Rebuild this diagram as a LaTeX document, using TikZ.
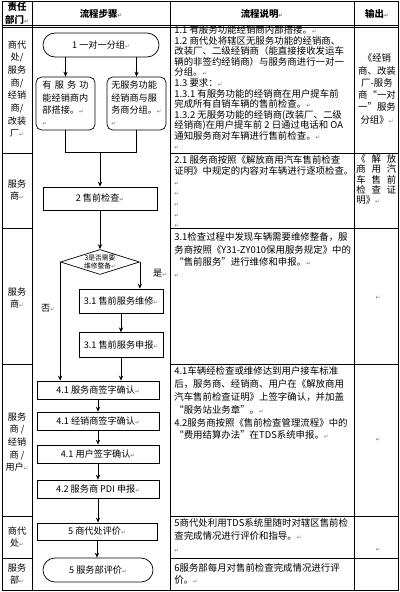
\documentclass[tikz,border=0pt]{standalone}
\usepackage{fontspec}
\setmainfont{Noto Sans CJK SC}
\newfontfamily\markfont{DejaVu Sans}
\usetikzlibrary{arrows.meta,shapes.geometric}
\newcommand{\crmark}{{\markfont\color{black!55}\fontsize{4}{4}\selectfont ↵}}
\newcommand{\spreadline}[2]{\makebox[#1][s]{#2}}

\begin{document}
\begin{tikzpicture}[x=0.025cm,y=-0.025cm,line width=0.5pt,
  arr/.style={-{Stealth[length=3.5pt,width=3pt]}},
  head/.style={align=center,inner sep=0pt,font=\bfseries\fontsize{6.7}{9}\selectfont},
  dept/.style={align=center,inner sep=0pt,font=\fontsize{6.5}{9}\selectfont},
  desc/.style={anchor=north west,inner sep=0pt,align=left,font=\fontsize{6.7}{#1}\selectfont},
  outtext/.style={align=center,inner sep=0pt,font=\fontsize{6.7}{8.7}\selectfont},
  stepbox/.style={draw,rectangle,inner sep=0pt,minimum width=3.05cm,minimum height=0.45cm,font=\fontsize{6.5}{8}\selectfont},
  termbox/.style={draw,rectangle,rounded corners=0.3cm,inner sep=0pt,minimum height=0.6cm,font=\fontsize{6.5}{8}\selectfont},
  smallbox/.style={draw,rectangle,rounded corners=4pt,inner sep=0pt,minimum width=1.475cm,minimum height=1.325cm,align=left,font=\fontsize{6.5}{8.8}\selectfont},
  decide/.style={draw,diamond,aspect=3.2,inner sep=0pt,minimum width=1.975cm,minimum height=0.625cm,align=center,font=\fontsize{4.8}{5.5}\selectfont},
  lab/.style={inner sep=0pt,font=\fontsize{6.5}{8}\selectfont}]
\useasboundingbox (0,0) rectangle (400,592);
% table
\draw[line width=0.6pt] (2,1) rectangle (398,590);
\draw (32,1) -- (32,590) (170,1) -- (170,590) (354,1) -- (354,590);
\draw (2,25) -- (398,25) (2,27) -- (398,27);
\foreach \yy in {153,228,364,516,558}
  \draw (2,\yy) -- (32,\yy) (170,\yy) -- (398,\yy);
% header
\node[head] (hdept) at (17,13.5) {责任\\部门\crmark};
\node[head] (hstep) at (101,14) {流程步骤\crmark};
\node[head] (hdesc) at (262,14) {流程说明\crmark};
\node[head] (hout) at (377,14) {输出\crmark};
% departments
\node[dept] (d1) at (17,89) {商代\\处/\\服务\\商/\\经销\\商/\\改装\\厂\crmark};
\node[dept] (d2) at (17,190) {服务\\商\crmark};
\node[dept] (d3) at (17,298) {服务\\商\crmark};
\node[dept] (d4) at (17,442) {服务\\商\ /\\经销\\商\ /\\用户\crmark};
\node[dept] (d5) at (17,537) {商代\\处\crmark};
\node[dept] (d6) at (17,574) {服务\\部\crmark};
% flow
\node[termbox,minimum width=2.9cm] (s1) at (101,45) {1 一对一分组\crmark};
\node[smallbox] (s1a) at (65.5,103.5) {\spreadline{1.15cm}{有\hfill 服\hfill 务\hfill 功}\\能经销商内\\部搭接。\crmark\\\crmark};
\node[smallbox] (s1b) at (136.5,103.5) {无服务功能\\经销商与服\\务商分组。\crmark\\\crmark};
\coordinate (jl) at (65.5,152);
\coordinate (jr) at (136.5,152);
\coordinate (jm) at (100,152);
\node[stepbox,minimum width=2.85cm,minimum height=0.575cm] (s2) at (100,198.5) {2 售前检查\crmark};
\node[decide] (s3) at (100,262) {3是否需要\\维修整备\crmark};
\node[stepbox,minimum width=2.1cm,minimum height=0.6cm] (s31) at (121,301) {3.1 售前服务维修\crmark};
\node[stepbox,minimum width=2.1cm,minimum height=0.62cm] (s32) at (121,345) {3.1 售前服务申报\crmark};
\node[lab] (yes) at (160,273) {是\crmark};
\node[lab] (no) at (48,308) {否\crmark};
\node[stepbox] (s41) at (98,390) {4.1 服务商签字确认\crmark};
\node[stepbox] (s42) at (98,421) {4.1 经销商签字确认\crmark};
\node[stepbox] (s43) at (98,454) {4.1 用户签字确认\crmark};
\node[stepbox] (s44) at (98,489) {4.2 服务商 PDI 申报\crmark};
\node[stepbox,minimum width=3.0cm,minimum height=0.43cm] (s5) at (97,531.5) {5 商代处评价\crmark};
\node[termbox,minimum width=2.75cm] (s6) at (98,570) {5 服务部评价\crmark};
\draw[arr] (s1a.north |- s1.south) -- (s1a.north);
\draw[arr] (s1b.north |- s1.south) -- (s1b.north);
\draw (s1a.south) -- (jl) -- (jr) -- (s1b.south);
\draw[arr] (jm) -- (s2.north);
\draw[arr] (s2.south) -- (s3.north);
\draw[arr] (s3.east) -- (s3.east |- s31.north);
\draw[arr] (s31) -- (s32);
\draw[arr] (s3.west) -- (s3.west |- s41.north);
\draw[arr] (s32.south) -- (s32.south |- s41.north);
\draw[arr] (s41) -- (s42);
\draw[arr] (s42) -- (s43);
\draw[arr] (s43) -- (s44);
\draw[arr] (s44.south) -- (s44.south |- s5.north);
\draw[arr] (s5.south) -- (s5.south |- s6.north);
% description
\node[desc=7.5pt] (t1) at (174,25.5) {1.1 有服务功能经销商内部搭接。\crmark\\1.2 商代处将辖区无服务功能的经销商、\\改装厂、二级经销商（能直接接收发运车\\辆的非签约经销商）与服务商进行一对一\\分组。\crmark\\1.3 要求：\crmark\\1.3.1 有服务功能的经销商在用户提车前\\完成所有自销车辆的售前检查。\crmark\\1.3.2 无服务功能的经销商(改装厂、二级\\经销商)在用户提车前 2 日通过电话和 OA\\通知服务商对车辆进行售前检查。\crmark\\\crmark};
\node[desc=7.6pt] (t2) at (174,155.5) {2.1 服务商按照《解放商用汽车售前检查\\证明》中规定的内容对车辆进行逐项检查。\crmark\\\crmark\\\crmark\\\crmark\\\crmark\\\crmark};
\node[desc=8.7pt] (t3) at (174,232.5) {3.1检查过程中发现车辆需要维修整备，服\\务商按照《Y31-ZY010保用服务规定》中的\\“售前服务”进行维修和申报。\crmark\\\crmark};
\node[desc=9.1pt] (t4) at (174,366.5) {4.1车辆经检查或维修达到用户接车标准\\后，服务商、经销商、用户在《解放商用\\汽车售前检查证明》上签字确认，并加盖\\“服务站业务章”。\crmark\\4.2服务商按照《售前检查管理流程》中的\\“费用结算办法”在TDS系统申报。\crmark};
\node[desc=9.2pt] (t5) at (174,518.5) {5商代处利用TDS系统里随时对辖区售前检\\查完成情况进行评价和指导。\crmark\\\crmark};
\node[desc=8.6pt] (t6) at (174,563.5) {6服务部每月对售前检查完成情况进行评\\价。\crmark};
% output
\node[outtext] (o1) at (377,89) {《经销\\商、改装\\厂-服务\\商“一对\\一”服务\\分组》\crmark};
\node[desc=7.2pt] (o2) at (356,154.5) {\spreadline{1.0cm}{《\hfill 解\hfill 放}\\\spreadline{1.0cm}{商\hfill 用\hfill 汽}\\\spreadline{1.0cm}{车\hfill 售\hfill 前}\\\spreadline{1.0cm}{检\hfill 查\hfill 证}\\明》\crmark};
\node[lab] (o3) at (378,298) {\crmark};
\node[lab] (o4) at (378,440) {\crmark};
\node[lab] (o5) at (378,550) {\crmark};
\end{tikzpicture}
\end{document}
